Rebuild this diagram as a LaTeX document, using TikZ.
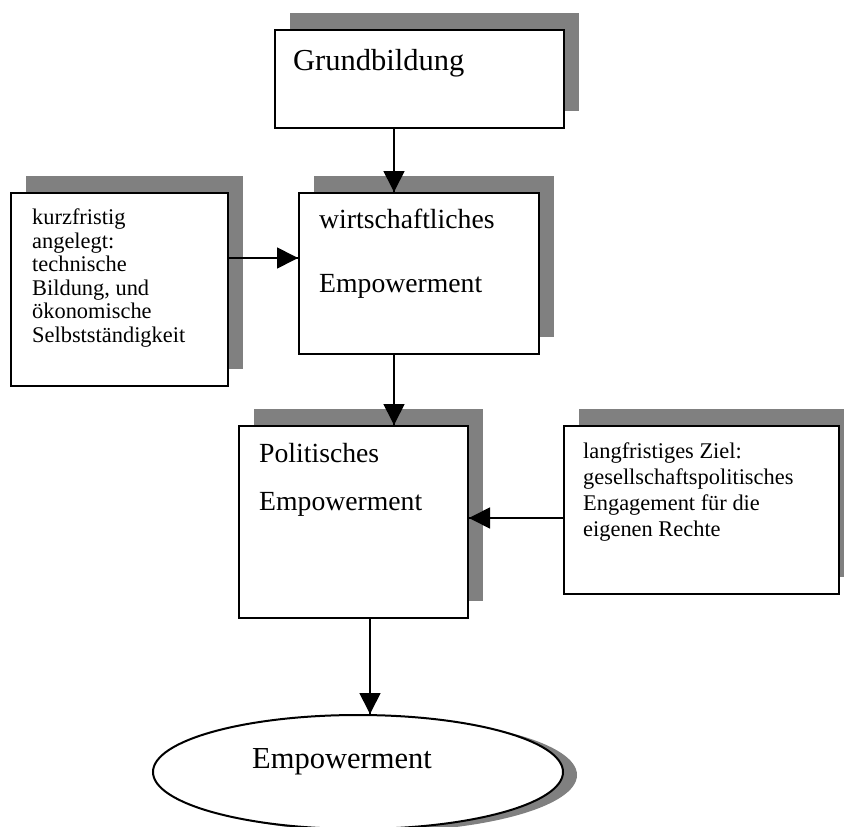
\documentclass[tikz,border=0pt]{standalone}
\usepackage{fontspec}
\setmainfont{Liberation Serif}
\usetikzlibrary{arrows.meta,shapes.geometric,shadows,decorations.markings}
\definecolor{schatten}{HTML}{808080}
\tikzstyle{kasten}=[draw, line width=2pt, fill=white, anchor=north west, inner sep=0pt,
    general shadow={fill=schatten, shadow xshift=15pt, shadow yshift=17pt}]
\tikzstyle{schrift}=[anchor=base west, inner sep=0pt, align=left]
\providecommand{\kasten}{\node[kasten]}
\providecommand{\schrift}{\node[schrift]}

\begin{document}
\begin{tikzpicture}[x=1pt, y=-1pt,
    every edge/.style={
        draw, line width=1.7pt,
        postaction={decorate,
                    decoration={markings,mark=at position 1 with {\arrow{Triangle[width=21pt,length=21pt]}}}
                   }
        }
]
\useasboundingbox (0,0) rectangle (844,827);
\kasten (grund) at (274,29) [minimum width=289pt, minimum height=98pt] {};
\kasten (wirt) at (298,192) [minimum width=240pt, minimum height=161pt] {};
\kasten (kurz) at (10,192) [minimum width=217pt, minimum height=193pt] {};
\kasten (polit) at (238,425) [minimum width=229pt, minimum height=192pt] {};
\kasten (lang) at (563,425) [minimum width=275pt, minimum height=168pt] {};
\node (ziel) at (358,772) [ellipse, draw, line width=2pt, fill=white,
    minimum width=410pt, minimum height=114pt,
    general shadow={fill=schatten, shadow xshift=14pt, shadow yshift=-3pt}] {};
% base = letzte Zeile
\schrift (grundtext) at (293,70) [font=\fontsize{30.5}{36}\selectfont] {Grundbildung};
\schrift (wirttext) at (319,292) [font=\fontsize{27.7}{64}\selectfont] {wirtschaftliches\\Empowerment};
\schrift (kurztext) at (32,342) [font=\fontsize{22.4}{23.5}\selectfont] {kurzfristig\\angelegt:\\technische\\Bildung, und\\ökonomische\\Selbstständigkeit};
\schrift (polittext) at (259,510) [font=\fontsize{27.7}{48}\selectfont] {Politisches\\Empowerment};
\schrift (langtext) at (583,536) [font=\fontsize{22.4}{26}\selectfont] {langfristiges Ziel:\\gesellschaftspolitisches\\Engagement für die\\eigenen Rechte};
\schrift (zieltext) at (252,768) [font=\fontsize{30.5}{36}\selectfont] {Empowerment};
\coordinate (achse) at (394,0);
\coordinate (achse2) at (370,0);
\coordinate (hoehe1) at (0,258);
\coordinate (hoehe2) at (0,518);
\path
(grund.south -| achse) edge (wirt.north -| achse)
(wirt.south -| achse) edge (polit.north -| achse)
(polit.south -| achse2) edge (ziel.north -| achse2)
(kurz.east |- hoehe1) edge (wirt.west |- hoehe1)
(lang.west |- hoehe2) edge (polit.east |- hoehe2)
;
\end{tikzpicture}
\end{document}
